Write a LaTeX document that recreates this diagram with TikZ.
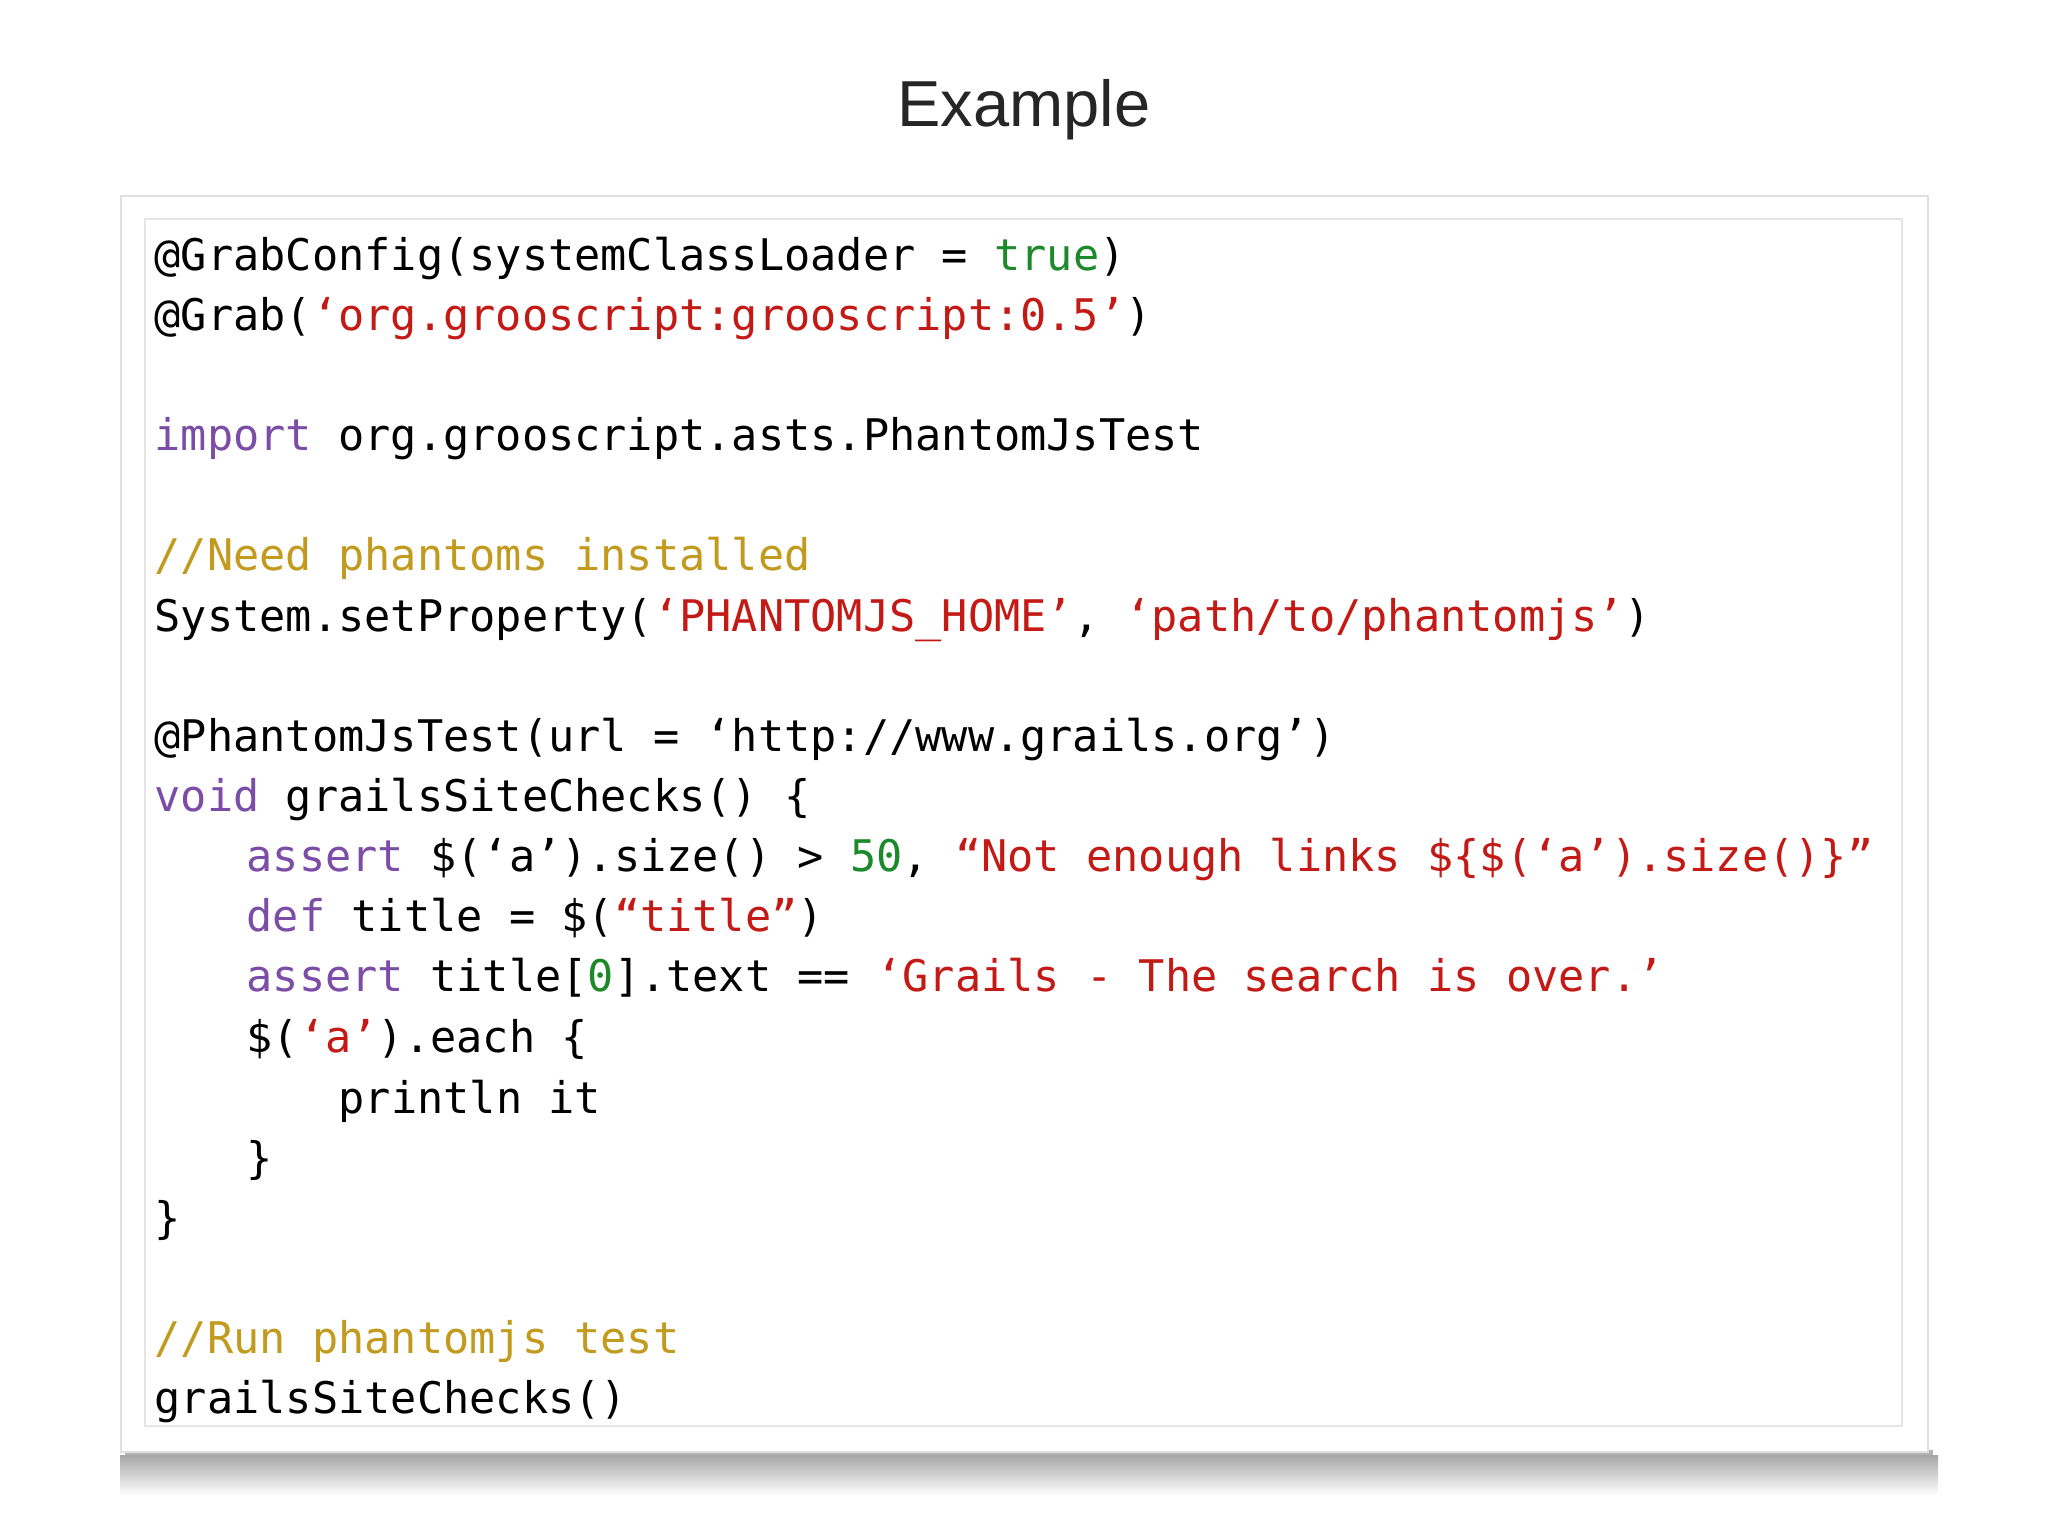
\documentclass[tikz,border=0pt]{standalone}
\usepackage{fontspec}
\setmainfont{Liberation Sans}
\setmonofont{DejaVu Sans Mono}
\definecolor{kw}{HTML}{7B4DA6}
\definecolor{st}{HTML}{C41A16}
\definecolor{nm}{HTML}{1C8A2A}
\definecolor{cm}{HTML}{C29B1E}
\newcommand{\K}[1]{\textcolor{kw}{#1}}
\newcommand{\Sx}[1]{\textcolor{st}{#1}}
\newcommand{\N}[1]{\textcolor{nm}{#1}}
\newcommand{\C}[1]{\textcolor{cm}{#1}}
\tikzset{code/.style={anchor=base west,inner sep=0pt,font=\ttfamily\fontsize{12.4}{14}\selectfont}}
\begin{document}
\begin{tikzpicture}[x=1cm,y=1cm]
\useasboundingbox (0,0) rectangle (20.48,-15.36);
\fill[white] (0,0) rectangle (20.48,-15.36);
% shadow
\fill[black!30] (1.25,-14.5) rectangle (19.33,-14.62);
\shade[top color=black!35,bottom color=white] (1.2,-14.55) rectangle (19.38,-14.95);
\fill[white] (1.21,-1.96) rectangle (19.28,-14.52);
\draw[black!12,line width=0.6pt] (1.21,-1.96) rectangle (19.28,-14.52);
\draw[black!10] (1.45,-2.19) rectangle (19.02,-14.26);
\node[font=\fontsize{18.5}{22}\selectfont,text=black!85] (title) at (10.24,-1.10) {Example};
\node[code] (l0) at (1.54,-2.71) {@GrabConfig(systemClassLoader = \N{true})};
\node[code] (l1) at (1.54,-3.31) {@Grab(\Sx{‘org.grooscript:grooscript:0.5’})};
\node[code] (l3) at (1.54,-4.51) {\K{import} org.grooscript.asts.PhantomJsTest};
\node[code] (l5) at (1.54,-5.71) {\C{//Need phantoms installed}};
\node[code] (l6) at (1.54,-6.32) {System.setProperty(\Sx{‘PHANTOMJS\_HOME’}, \Sx{‘path/to/phantomjs’})};
\node[code] (l8) at (1.54,-7.52) {@PhantomJsTest(url = ‘http://www.grails.org’)};
\node[code] (l9) at (1.54,-8.12) {\K{void} grailsSiteChecks() \{};
\node[code] (l10) at (2.46,-8.72) {\K{assert} \$(‘a’).size() > \N{50}, \Sx{“Not enough links \$\{\$(‘a’).size()\}”}};
\node[code] (l11) at (2.46,-9.32) {\K{def} title = \$(\Sx{“title”})};
\node[code] (l12) at (2.46,-9.92) {\K{assert} title[\N{0}].text == \Sx{‘Grails - The search is over.’}};
\node[code] (l13) at (2.46,-10.52) {\$(\Sx{‘a’}).each \{};
\node[code] (l14) at (3.38,-11.13) {println it};
\node[code] (l15) at (2.46,-11.73) {\}};
\node[code] (l16) at (1.54,-12.33) {\}};
\node[code] (l18) at (1.54,-13.53) {\C{//Run phantomjs test}};
\node[code] (l19) at (1.54,-14.13) {grailsSiteChecks()};
\end{tikzpicture}
\end{document}
